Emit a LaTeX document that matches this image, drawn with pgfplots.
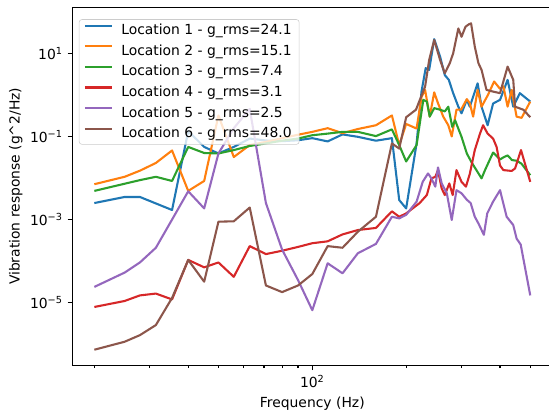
\documentclass[border=0pt]{standalone}
\usepackage{fontspec}
\setmainfont{DejaVu Sans}
\usepackage{pgfplots}
\pgfplotsset{compat=1.18}

\definecolor{c0}{HTML}{1F77B4}
\definecolor{c1}{HTML}{FF7F0E}
\definecolor{c2}{HTML}{2CA02C}
\definecolor{c3}{HTML}{D62728}
\definecolor{c4}{HTML}{9467BD}
\definecolor{c5}{HTML}{8C564B}

\begin{document}
\begin{tikzpicture}
\begin{axis}[
  scale only axis,
  width=345.3pt, height=257.8pt,
  xmode=log, ymode=log,
  xmin=17.02, xmax=587.6,
  ymin=3.11e-7, ymax=128,
  axis line style={black, line width=0.8pt},
  tick style={black, line width=0.8pt},
  tick align=outside, tick pos=left,
  major tick length=3.5pt, minor tick length=2pt,
  xtick={100}, xticklabels={10\textsuperscript{2}},
  xminorticks=true,
  minor xtick={20,30,40,50,60,70,80,90,200,300,400,500},
  ytick={1e-5,1e-3,1e-1,10},
  yticklabels={10\textsuperscript{−5},10\textsuperscript{−3},10\textsuperscript{−1},10\textsuperscript{1}},
  yminorticks=false,
  ticklabel style={font=\fontsize{10}{12}\selectfont},
  label style={font=\fontsize{10}{12}\selectfont},
  xlabel={Frequency (Hz)},
  ylabel={Vibration response (g\textasciicircum{}2/Hz)},
  xlabel style={at={(axis description cs:0.5,-0.108)}, anchor=center},
  ylabel style={at={(axis description cs:-0.118,0.5)}, anchor=center, rotate=0},
  legend cell align=left,
  legend image code/.code={\draw[#1] (0pt,3.4pt) -- (19.8pt,3.4pt);},
  legend style={at={(axis description cs:0,1)}, anchor=north west,
    xshift=4.6pt, yshift=-8.6pt,
    draw=black!20, fill=white, fill opacity=0.8, text opacity=1,
    rounded corners=2pt, inner xsep=3.4pt, inner ysep=1.4pt,
    row sep=1.7pt, column sep=3.6pt,
    font=\fontsize{10}{12}\selectfont},
  every axis plot/.append style={line width=1.5pt, line join=round},
]

% Location 1
\addplot[c0] coordinates {
(20,2.5e-3)(25,3.5e-3)(28,3.5e-3)(35.5,1.7e-3)(40,0.135)(45,0.056)(50,0.039)
(56,0.056)(63,0.089)(71,0.080)(80,0.077)(90,0.081)(100,0.091)(112,0.076)
(125,0.112)(140,0.098)(160,0.079)(180,0.091)(190,2.95e-3)(200,1.86e-3)
(216,0.068)(224,1.2)(231,4.4)(237,4.0)(246,21.9)(257,8.3)(266,3.0)(274,2.3)
(283,1.1)(294,0.52)(301,0.36)(313,0.76)(320,0.52)(339,1.9)(349,0.52)
(365,0.186)(380,0.62)(400,0.76)(423,2.3)(441,0.52)(463,1.1)(500,0.69)
};
\addlegendentry{Location 1 - g\_rms=24.1}

% Location 2
\addplot[c1] coordinates {
(20,7.1e-3)(25,0.0107)(28,0.015)(31.5,0.023)(35.5,0.046)(40,4.9e-3)(45,8.5e-3)
(50,0.32)(56,0.032)(63,0.062)(71,0.074)(80,0.091)(90,0.11)(100,0.129)
(112,0.158)(125,0.120)(140,0.151)(160,0.186)(180,0.32)(190,0.062)(200,0.20)
(216,0.155)(224,0.89)(230,1.32)(238,0.30)(246,1.15)(253,0.63)(263,0.30)
(273,0.186)(280,0.10)(290,0.44)(300,0.44)(313,0.79)(320,0.63)(328,0.30)
(339,1.32)(349,0.52)(366,1.0)(383,2.1)(400,1.4)(410,1.6)(423,0.52)(436,1.32)
(452,0.30)(469,0.28)(500,0.69)
};
\addlegendentry{Location 2 - g\_rms=15.1}

% Location 3
\addplot[c2] coordinates {
(20,4.9e-3)(28,8.9e-3)(31.5,0.0107)(35.5,8.5e-3)(40,0.056)(45,0.040)(50,0.039)
(56,0.047)(63,0.059)(71,0.068)(80,0.079)(90,0.089)(100,0.107)(112,0.117)
(125,0.129)(140,0.129)(160,0.102)(180,0.148)(190,0.062)(200,0.025)(216,0.062)
(227,0.76)(233,0.69)(238,0.30)(246,0.48)(257,0.44)(266,0.40)(273,0.52)
(281,0.17)(287,0.245)(301,0.098)(313,0.039)(324,0.024)(349,9.8e-3)(358,0.0155)
(380,0.041)(400,0.028)(412,0.032)(423,0.035)(437,0.027)(453,0.026)(469,0.022)
(500,0.0117)
};
\addlegendentry{Location 3 - g\_rms=7.4}

% Location 4
\addplot[c3] coordinates {
(20,7.9e-6)(25,1.1e-5)(28,1.5e-5)(31.5,1.66e-5)(35.5,1.2e-5)(40,1.07e-4)
(45,7.1e-5)(50,9.3e-5)(56,4.2e-5)(63,2.3e-4)(71,1.48e-4)(80,1.78e-4)
(90,2.2e-4)(100,2.7e-4)(112,3.0e-4)(125,4.4e-4)(140,5.6e-4)(160,6.3e-4)
(180,1.58e-3)(190,1.17e-3)(200,1.41e-3)(221,2.5e-3)(233,3.9e-3)(241,9.8e-3)
(248,0.0107)(253,0.0155)(260,5.6e-3)(266,3.9e-3)(275,7.4e-3)(282,3.9e-3)
(290,0.0155)(301,8.1e-3)(311,6.2e-3)(320,0.0126)(332,0.047)(345,0.117)
(353,0.186)(365,0.117)(380,0.089)(390,0.056)(400,0.020)(410,0.0155)
(436,0.0148)(447,0.017)(467,0.047)(481,0.022)(500,8.1e-3)
};
\addlegendentry{Location 4 - g\_rms=3.1}

% Location 5
\addplot[c4] coordinates {
(20,2.4e-5)(25,5.3e-5)(28,9.3e-5)(31.5,2.1e-4)(35.5,1.0e-3)(40,4.8e-3)
(45,1.86e-3)(50,0.039)(56,0.158)(63,0.46)(71,2.5e-3)(80,1.9e-4)(90,3.5e-5)
(100,6.6e-6)(112,8.9e-5)(125,5.1e-5)(140,1.55e-4)(160,2.6e-4)(180,1.17e-3)
(190,1.07e-3)(200,1.3e-3)(216,2.7e-3)(226,8.1e-3)(235,0.0129)(241,9.8e-3)
(248,6.2e-3)(253,0.018)(260,7.4e-3)(270,4.3e-3)(280,9.8e-4)(290,5.1e-3)
(301,4.3e-3)(313,3.0e-3)(322,2.5e-3)(332,1.17e-3)(341,8.1e-4)(355,4.3e-4)
(364,1.41e-3)(380,2.7e-3)(400,5.1e-3)(420,1.17e-3)(441,7.4e-4)(452,3.5e-4)
(466,2.5e-4)(500,1.5e-5)
};
\addlegendentry{Location 5 - g\_rms=2.5}

% Location 6
\addplot[c5] coordinates {
(20,7.4e-7)(25,1.15e-6)(28,1.66e-6)(31.5,2.9e-6)(35.5,1.3e-5)(40,1.07e-4)
(45,3.2e-5)(50,8.9e-4)(56,9.1e-4)(63,1.95e-3)(71,2.6e-5)(80,1.8e-5)(90,2.6e-5)
(100,4.9e-5)(112,2.3e-4)(125,2.1e-4)(140,5.1e-4)(160,1.17e-3)(180,0.068)
(190,0.051)(200,0.29)(215,0.44)(230,1.58)(237,6.9)(246,20.9)(257,6.9)
(266,3.3)(276,5.8)(283,10)(294,39.8)(301,25)(310,43.7)(318,50)(323,52.5)
(332,14.5)(341,5.8)(349,4.0)(362,1.32)(380,1.20)(400,1.10)(423,4.8)(441,2.3)
(447,0.52)(475,0.44)(500,0.29)
};
\addlegendentry{Location 6 - g\_rms=48.0}

\end{axis}
\pgfresetboundingbox
\useasboundingbox ([shift={(-52.2pt,-35.06pt)}]current axis.south west)
  rectangle ([shift={(-2.23pt,5.26pt)}]current axis.north east);
\end{tikzpicture}
\end{document}
